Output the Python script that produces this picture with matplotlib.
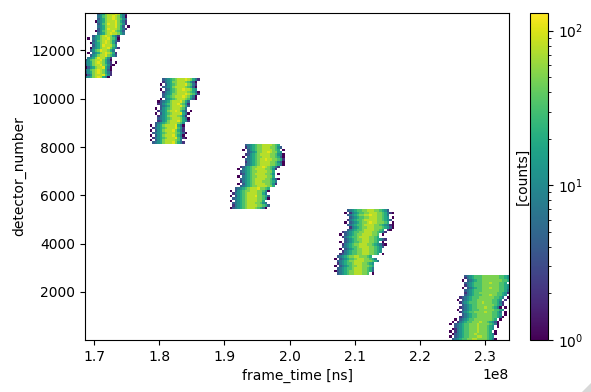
import numpy as np
import matplotlib
matplotlib.use('Agg')
import matplotlib.pyplot as plt
from matplotlib.colors import LogNorm
from matplotlib.patches import Polygon

# counts for each colour level, '.' is an empty bin
level_counts = {'.': 0, '1': 1, '2': 2, '3': 4, '4': 7, '5': 12, '6': 20,
                '7': 32, '8': 50, '9': 75, 'a': 105}

x_lim = [1.686e8, 2.337e8]
y_lim = [12, 13548]
n_x = 170
n_y = 135

# first x bin of each band, top band first
block1_starts = [4, 1, 0]
block2_starts = [30, 28, 26]
block3_starts = [63, 61, 58]
block4_starts = [104, 102, 100]
block5_starts = [151, 149, 146]

# rows, top to bottom
block1_rows = [
    ".3568999a9642",
    ".457899a98641",
    ".356899a98753",
    "14568999a8642",
    ".3578a99a8752",
    ".4568999a863.1",
    ".3568a9998642",
    "1357899a8753",
    ".45689a99864",

    "..35689a98642",
    "1.456899a8751",
    "..35789a98642",
    ".145689a9863",
    "..3568a99975",
    ".1456899a8642",
    ".3578a99864",
    "1.45689a9862",
    ".356899a8753",

    ".4568a99752",
    "357899a8641",
    "45689a98642.1",
    "356899a87521",
    "1356899a641",
    "45789a98631",
    "35689a98642",
    "1358999a752",
    "45689a9641",
]

block2_rows = [
    ".345678999a98642",
    ".24568899987531",
    "1.35678999a8742",
    ".34568999987631",
    "1.3467899a99865",
    ".245678999987641",
    ".345688999a98752",
    ".35678999a98641",
    "1.4567899987531",

    ".134568999a864",
    ".23567899a8752",
    "..34568999a863",
    "1.35678999874",
    ".2456899a9753.1",
    "1.35678999a641",
    ".245689998752",
    ".3456789998641",
    ".23568999a8652",

    "..345678999875",
    "1.35689999a641",
    ".245678999a752",
    "1.3568999a8642",
    ".34567899987531",
    "1.3568999a8641",
    ".245678999a7521",
    "1.35689999874",
    ".34568999a8642",
]

block3_rows = [
    ".34567889999876",
    ".245678899988753",
    "1.3567889999876.1",
    "..34568899a98865",
    ".2356789999887541",
    "1.456788999887631",
    ".34567899a9988762",
    ".2456789999887531",
    ".3456789999887641",

    ".235678899a987642",
    "1.45678999988752",
    ".34567889999886",
    ".23567899998875.1",
    "1.4567889999886",
    ".3456789999887531",
    ".245678999888764",
    "1.35678999988752",
    ".34567889999886",

    "..345678999a8876",
    "1.35678899988751",
    ".24567899998864",
    "1.35678999a88763",
    ".345678999988751",
    "1.456789999886",
    ".34567899988754",
    ".245678999988763",
    "134567899987641",
]

block4_rows = [
    ".34567788999887653",
    "1.245677889998876421",
    ".345678899a9988764",
    "..3456778899988765.1",
    ".245677899999887653",
    "1.34567889a9988876.1",
    ".3456778999988765421",
    "..245678899988876531",
    ".345677899998876.21",

    ".234567788999887642",
    "1.34567889999887.1",
    ".245677899998876",
    "..34567889998876532",
    "1.34567789998876.1",
    ".245678899988765421",
    ".34567789999887653",
    "1.345678899988765",
    ".2456778899988765",

    "..2345677889998876.1",
    ".34567889988876",
    "1.345677899988764",
    ".34567889999888764",
    ".245677899988765",
    "1.34567889988876",
    ".345677899988764",
    "1345678899988763",
    ".3456788999887.1",
]

block5_rows = [
    ".345677788888887765.21",
    ".245677788888887765.1",
    "1.345677888888887764",
    ".34567778889888776.1",
    ".2456777888888877653",
    "1.34567788898887765.1",
    ".345677788888887764",
    ".245677888888877652.1",
    ".34567778889887765",

    ".234567778888887764.1",
    "1.3456778888887765.2",
    ".245677788988877642",
    "..34567788888887652",
    ".23456778889887641.1",
    "1.34567778888887765",
    ".24567788889887764.1",
    "..3456778888887765.1",
    ".234567788888877641",

    "..1.345677888888876.1",
    ".1.24567788898876531",
    "1.345677888988887641",
    "..3456778889888765.1",
    ".12456778889888765",
    "1.245677888988876.1",
    ".134567788988887641",
    "1.3456778889988765",
    ".345677889988887641",
]

blocks = [
    (block1_starts, block1_rows),
    (block2_starts, block2_rows),
    (block3_starts, block3_rows),
    (block4_starts, block4_rows),
    (block5_starts, block5_rows),
]

# fill the 2d histogram from the rows above, block1 is at the top of the plot
hist = np.zeros((n_y, n_x))
row = n_y - 1
for starts, rows in blocks:
    for i, text in enumerate(rows):
        col = starts[i // 9]
        for j, ch in enumerate(text):
            if col + j < n_x:
                hist[row, col + j] = level_counts[ch]
        row -= 1

x_edges = np.linspace(x_lim[0], x_lim[1], n_x + 1)
y_edges = np.linspace(y_lim[0], y_lim[1], n_y + 1)

fig = plt.figure(figsize=(5.91, 3.92), dpi=100)
ax = fig.add_axes([85 / 591, 52 / 392, 424 / 591, 327 / 392])
cax = fig.add_axes([530 / 591, 52 / 392, 18 / 591, 327 / 392])

mesh = ax.pcolormesh(x_edges, y_edges, np.ma.masked_equal(hist, 0),
                     cmap='viridis', norm=LogNorm(vmin=1, vmax=130))
ax.set_xlabel('frame_time [ns]')
ax.set_ylabel('detector_number')

cbar = fig.colorbar(mesh, cax=cax)
cbar.set_label('[counts]', labelpad=0)
cbar.ax.yaxis.set_label_position('left')

# small grey corner of the screenshot
fig.add_artist(Polygon([[1.0, 0.0], [1.0, 9 / 392], [1 - 9 / 591, 0.0]],
                       transform=fig.transFigure, color='#d8d8d8', lw=0))

fig.savefig('out.png', dpi=100)
